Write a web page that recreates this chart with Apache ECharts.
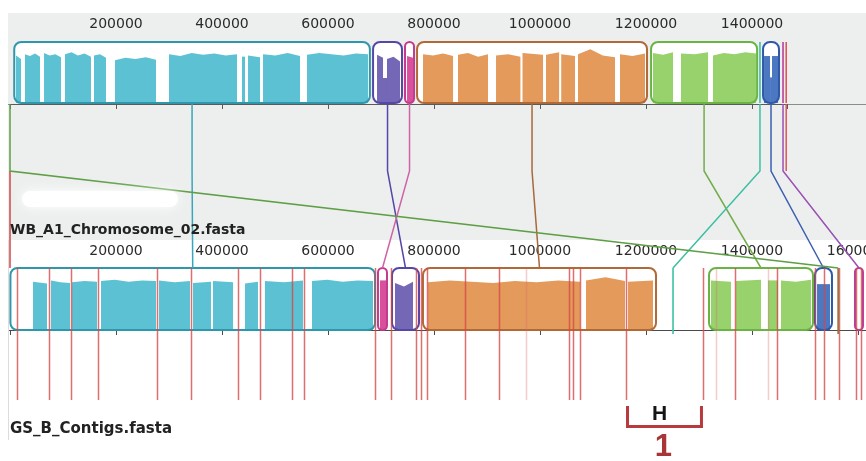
<!DOCTYPE html>
<html>
<head>
<meta charset="utf-8">
<title>Genome alignment</title>
<script src="https://cdn.jsdelivr.net/npm/echarts@6/dist/echarts.min.js"></script>
<style>
  html, body { margin: 0; padding: 0; background: #ffffff; }
  #main { width: 866px; height: 461px; }
</style>
</head>
<body>
<div id="main"></div>
<script>
// ---- ruler extents (bp) ----
const chromLength = 1466000;     // WB_A1_Chromosome_02 length
const contigViewEnd = 1615100;   // visible span of the concatenated contigs
const tickStep = 200000;

const topGenomeName = 'WB_A1_Chromosome_02.fasta';
const bottomGenomeName = 'GS_B_Contigs.fasta';

// ---- locally collinear blocks: colour key and range on each genome ----
// [0, 0] = anchor only (no box drawn), null = not present on that genome
const lcbKeys = ['cyan', 'purple', 'pink', 'orange', 'green', 'blue', 'teal', 'plum', 'red', 'olive', 'rust'];
const lcbTop = [
  [8000, 679000], [685000, 739600], [745300, 762300], [768000, 1201900],
  [1209500, 1409600], [1420800, 1450900], [1414000, 1416000], [1457500, 1459500],
  [1463500, 1465500], [0, 0], null
];
const lcbBottom = [
  [800, 688700], [720800, 771700], [694300, 711300], [779200, 1218900],
  [1318900, 1515100], [1518900, 1550900], [1250000, 1252000], [1594300, 1609400],
  null, [1561500, 1563500], [0, 0]
];

// ---- similarity profiles inside each block: [start, end, level, level, ...] ----
const topCyanProfile = [
  [11300, 20800, .78, .72], [28300, 56600, .80, .77, .81, .76], [64200, 96200, .82, .78, .80, .75],
  [103800, 152800, .80, .83, .78, .81, .76], [158500, 181100, .78, .80, .74],
  [198100, 275500, .70, .74, .72, .75, .71], [300000, 428300, .80, .77, .82, .79, .81, .78, .80],
  [437700, 443400, .76], [449100, 471700, .78, .75], [477400, 547200, .80, .78, .82, .77],
  [560400, 675500, .79, .82, .80, .78, .81, .80]
];
const topPurpleProfile = [[692500, 703800, .79, .74], [703800, 711300, .41], [711300, 735900, .72, .76, .68]];
const topPinkProfile = [[749100, 760400, .77, .74]];
const topOrangeProfile = [
  [779300, 835900, .80, .78, .81, .77], [845300, 901900, .79, .82, .76, .80],
  [917000, 963000, .78, .80, .76], [967000, 1005700, .82, .79], [1011300, 1036000, .79, .83],
  [1040000, 1066000, .80, .77], [1071700, 1141500, .80, .88, .78, .75], [1150900, 1198100, .80, .77, .81]
];
const topGreenProfile = [[1213200, 1251000, .82, .79, .83], [1266000, 1317000, .81, .80, .83], [1326400, 1407600, .78, .82, .80, .83, .81]];
const topBlueProfile = [[1422700, 1434000, .77], [1434000, 1437700, .42], [1437700, 1449100, .77]];

const bottomCyanProfile = [
  [43400, 69800, .78, .75], [77400, 113200, .80, .77, .76], [117000, 164200, .77, .79, .78],
  [171700, 275500, .79, .81, .78, .80, .79], [281100, 339600, .80, .77, .79], [345300, 379300, .76, .78],
  [383000, 420800, .79, .77], [443400, 467900, .75, .78], [481100, 552800, .79, .77, .80],
  [569800, 684900, .79, .81, .78, .80, .79]
];
const bottomPinkProfile = [[698100, 709400, .80]];
const bottomPurpleProfile = [[726400, 760400, .76, .70, .78]];
const bottomOrangeProfile = [
  [788700, 1075500, .77, .80, .78, .76, .79, .77, .80, .78], [1086800, 1160400, .80, .85, .79], [1166000, 1213200, .78, .80]
];
const bottomGreenProfile = [[1322600, 1360400, .80, .78], [1369800, 1417000, .79, .81], [1430200, 1449100, .80], [1454700, 1511300, .80, .78, .81]];
const bottomBlueProfile = [[1522700, 1547200, .74]];

// ---- contig boundaries on the draft assembly (bp) ----
const contigBreaks = [
  13200, 73600, 115100, 166000, 277400, 341500, 430200, 471700, 532100, 554700,
  688700, 718900, 766000, 775500, 786800, 858500, 922600, 1054700, 1062300, 1075500,
  1162300, 1307500, 1367900, 1447200, 1518900, 1535800, 1564200, 1596200, 1605700
];
const faintContigBreaks = [973600, 1332100, 1430200];

// ---- highlighted region between two contig breaks ----
const regionSpan = [1162300, 1307500];
const regionLetter = 'H';
const regionNumber = '1';

// ---------------------------------------------------------------
const palette = {
  cyan:   { fill: '#5dc1d4', edge: '#2e97ac', link: '#3aa6bb' },
  purple: { fill: '#7367b6', edge: '#5547a8', link: '#5547a8' },
  pink:   { fill: '#d9509c', edge: '#c43b8c', link: '#cf63a6' },
  orange: { fill: '#e39a5b', edge: '#b06a37', link: '#a8683a' },
  green:  { fill: '#98d26c', edge: '#69b445', link: '#74ad4a' },
  blue:   { fill: '#4c78c2', edge: '#2f58a8', link: '#3d5fb0' },
  teal:   { fill: '#3cc2a4', edge: '#3cc2a4', link: '#3cbfa2' },
  plum:   { fill: '#ffffff', edge: '#b8409a', link: '#9a50b4' },
  red:    { fill: '#e05555', edge: '#e05555', link: '#e05555' },
  olive:  { fill: '#857a35', edge: '#857a35', link: '#5e9e44' },
  rust:   { fill: '#d04848', edge: '#d04848', link: '#d04848' }
};
const topProfiles = { 0: topCyanProfile, 1: topPurpleProfile, 2: topPinkProfile, 3: topOrangeProfile, 4: topGreenProfile, 5: topBlueProfile };
const bottomProfiles = { 0: bottomCyanProfile, 1: bottomPurpleProfile, 2: bottomPinkProfile, 3: bottomOrangeProfile, 4: bottomGreenProfile, 5: bottomBlueProfile };

const TRACK_TOP = { top: 13, height: 91 };
const TRACK_BOTTOM = { top: 240, height: 90 };
const TOP_BOX = { top: 29, height: 61, tail: 0 };
const BOTTOM_BOX = { top: 28, height: 62, tail: 4 };

function blockRenderer(profiles, box) {
  return function (params, api) {
    const s = api.value(0), e = api.value(1), i = api.value(2);
    const cs = params.coordSys;
    const x0 = api.coord([s, 0])[0], x1 = api.coord([e, 0])[0];
    const top = cs.y + box.top, h = box.height, bottom = top + h;
    const c = palette[lcbKeys[i]];
    if (x1 - x0 < 3) {
      const xm = (x0 + x1) / 2;
      return { type: 'line', shape: { x1: xm, y1: top, x2: xm, y2: bottom + box.tail }, style: { stroke: c.edge, lineWidth: 1.6 } };
    }
    const r = Math.min(7, (x1 - x0) / 2);
    const children = [{ type: 'rect', shape: { x: x0, y: top, width: x1 - x0, height: h, r: r }, style: { fill: '#ffffff' } }];
    (profiles[i] || []).forEach(function (seg) {
      const a = seg[0], b = seg[1], lv = seg.slice(2);
      const xa = api.coord([a, 0])[0], xb = api.coord([b, 0])[0];
      const pts = [[xa, bottom]];
      if (lv.length === 1) {
        pts.push([xa, bottom - lv[0] * h], [xb, bottom - lv[0] * h]);
      } else {
        lv.forEach(function (l, k) { pts.push([xa + (xb - xa) * k / (lv.length - 1), bottom - l * h]); });
      }
      pts.push([xb, bottom]);
      children.push({ type: 'polygon', shape: { points: pts }, style: { fill: c.fill } });
    });
    children.push({ type: 'rect', shape: { x: x0, y: top, width: x1 - x0, height: h, r: r }, style: { fill: 'transparent', stroke: c.edge, lineWidth: 2 } });
    return { type: 'group', children: children };
  };
}

function blockData(ranges) {
  const out = [];
  ranges.forEach(function (rg, i) {
    if (rg && rg[1] > rg[0]) out.push([rg[0], rg[1], i]);
  });
  return out;
}

const axisLabelStyle = {
  inside: true, margin: 4, color: '#2a2a2a', fontSize: 14, fontFamily: 'DejaVu Sans',
  formatter: function (v) { return (v > 0 && v % tickStep === 0) ? String(v) : ''; }
};

const option = {
  animation: false,
  backgroundColor: '#ffffff',
  grid: [
    { left: 10, top: TRACK_TOP.top, width: 777, height: TRACK_TOP.height, outerBoundsMode: 'none', containLabel: false },
    { left: 10, top: TRACK_BOTTOM.top, width: 856, height: TRACK_BOTTOM.height, outerBoundsMode: 'none', containLabel: false }
  ],
  xAxis: [
    { gridIndex: 0, type: 'value', position: 'top', min: 0, max: chromLength, interval: tickStep,
      axisLine: { lineStyle: { color: '#5a5a5a', width: 1 } },
      axisTick: { inside: true, length: 5, lineStyle: { color: '#5a5a5a' } },
      axisLabel: axisLabelStyle, splitLine: { show: false } },
    { gridIndex: 1, type: 'value', position: 'top', min: 0, max: contigViewEnd, interval: tickStep,
      axisLine: { lineStyle: { color: '#4a4a4a', width: 1.2 } },
      axisTick: { inside: true, length: 5, lineStyle: { color: '#4a4a4a' } },
      axisLabel: axisLabelStyle, splitLine: { show: false } }
  ],
  yAxis: [
    { gridIndex: 0, type: 'value', min: 0, max: 1, show: false },
    { gridIndex: 1, type: 'value', min: 0, max: 1, show: false }
  ],
  graphic: [
    { type: 'rect', z: -10, silent: true, shape: { x: 8, y: 13, width: 858, height: 227 }, style: { fill: '#edefef' } },
    { type: 'line', z: -5, silent: true, shape: { x1: 8, y1: 104.5, x2: 866, y2: 104.5 }, style: { stroke: '#8c8c8c', lineWidth: 1 } },
    { type: 'line', z: -5, silent: true, shape: { x1: 8, y1: 330.5, x2: 866, y2: 330.5 }, style: { stroke: '#555555', lineWidth: 1.2 } },
    { type: 'line', z: -5, silent: true, shape: { x1: 8.5, y1: 240, x2: 8.5, y2: 440 }, style: { stroke: '#dcdcdc', lineWidth: 1 } },
    { type: 'rect', z: 20, silent: true, shape: { x: 22, y: 191, width: 156, height: 16, r: 8 }, style: { fill: '#ffffff', shadowBlur: 12, shadowColor: 'rgba(255,255,255,0.95)' } },
    { type: 'text', z: 20, silent: true, x: 10, y: 230, style: { text: topGenomeName, font: 'bold 14px "DejaVu Sans"', fill: '#222222', textVerticalAlign: 'middle' } },
    { type: 'text', z: 20, silent: true, x: 10, y: 429, style: { text: bottomGenomeName, font: 'bold 15px "DejaVu Sans"', fill: '#222222', textVerticalAlign: 'middle' } }
  ],
  series: [
    { id: 'topBlocks', type: 'custom', xAxisIndex: 0, yAxisIndex: 0, clip: false, z: 3,
      data: blockData(lcbTop), encode: { x: [0, 1] }, renderItem: blockRenderer(topProfiles, TOP_BOX) },
    { id: 'bottomBlocks', type: 'custom', xAxisIndex: 1, yAxisIndex: 1, clip: false, z: 3,
      data: blockData(lcbBottom), encode: { x: [0, 1] }, renderItem: blockRenderer(bottomProfiles, BOTTOM_BOX) },
    { id: 'contigBreaks', type: 'custom', xAxisIndex: 1, yAxisIndex: 1, clip: false, z: 5,
      data: contigBreaks.map(function (v) { return [v, 1]; }).concat(faintContigBreaks.map(function (v) { return [v, 0]; })),
      encode: { x: 0 },
      renderItem: function (params, api) {
        const cs = params.coordSys;
        const x = Math.round(api.coord([api.value(0), 0])[0]) + 0.5;
        const strong = api.value(1) === 1;
        return { type: 'line', shape: { x1: x, y1: cs.y + 28, x2: x, y2: cs.y + 160 },
          style: { stroke: strong ? 'rgba(214,70,70,0.78)' : 'rgba(220,110,110,0.35)', lineWidth: 1.5 } };
      } },
    { id: 'region', type: 'custom', xAxisIndex: 1, yAxisIndex: 1, clip: false, z: 6,
      data: [regionSpan], encode: { x: [0, 1] },
      renderItem: function (params, api) {
        const cs = params.coordSys;
        const xa = api.coord([api.value(0), 0])[0], xb = api.coord([api.value(1), 0])[0];
        const y0 = cs.y + 166, y1 = cs.y + 186.5, xm = (xa + xb) / 2;
        return { type: 'group', children: [
          { type: 'polyline', shape: { points: [[xa + 1.5, y0], [xa + 1.5, y1], [xb - 1.5, y1], [xb - 1.5, y0]] },
            style: { stroke: '#b83a3c', lineWidth: 3, fill: null } },
          { type: 'text', style: { text: regionLetter, x: xm - 5, y: cs.y + 174, textAlign: 'center', textVerticalAlign: 'middle',
            font: 'bold 21px "Liberation Sans"', fill: '#151515' } },
          { type: 'text', style: { text: regionNumber, x: xm - 1, y: cs.y + 207, textAlign: 'center', textVerticalAlign: 'middle',
            font: 'bold 31px "Liberation Sans"', fill: '#a83638' } }
        ] };
      } }
  ]
};

const chart = echarts.init(document.getElementById('main'), null, { renderer: 'canvas' });
chart.setOption(option);

// Connectors between matching blocks, placed with each genome's own ruler scale
const yLinkTop = TRACK_TOP.top + TRACK_TOP.height;
const yLinkMid = yLinkTop + 67;
const yLinkBottom = TRACK_BOTTOM.top + BOTTOM_BOX.top;
const linkData = [];
lcbKeys.forEach(function (key, i) {
  const t = lcbTop[i], b = lcbBottom[i];
  const xt = t ? chart.convertToPixel({ xAxisIndex: 0 }, (t[0] + t[1]) / 2) : -1;
  const xb = b ? chart.convertToPixel({ xAxisIndex: 1 }, (b[0] + b[1]) / 2) : -1;
  linkData.push([xt, xb, i, t ? 1 : 0, b ? 1 : 0]);
});
// red anchors first, so the coloured links sit over them
linkData.sort(function (p, q) { return (lcbKeys[q[2]] === 'red' || lcbKeys[q[2]] === 'rust') - (lcbKeys[p[2]] === 'red' || lcbKeys[p[2]] === 'rust'); });

chart.setOption({
  series: [{
    id: 'links', type: 'custom', coordinateSystem: 'none', z: 4, data: linkData,
    renderItem: function (params, api) {
      const xt = api.value(0), xb = api.value(1), i = api.value(2);
      const hasTop = api.value(3) === 1, hasBottom = api.value(4) === 1;
      let pts;
      if (hasTop && hasBottom) pts = [[xt, yLinkTop], [xt, yLinkMid], [xb, yLinkBottom]];
      else if (hasTop) pts = [[xt, yLinkTop], [xt, yLinkMid]];
      else pts = [[xb, yLinkMid], [xb, yLinkBottom]];
      return { type: 'polyline', shape: { points: pts },
        style: { stroke: palette[lcbKeys[i]].link, lineWidth: 1.5, fill: null } };
    }
  }]
});
</script>
</body>
</html>
